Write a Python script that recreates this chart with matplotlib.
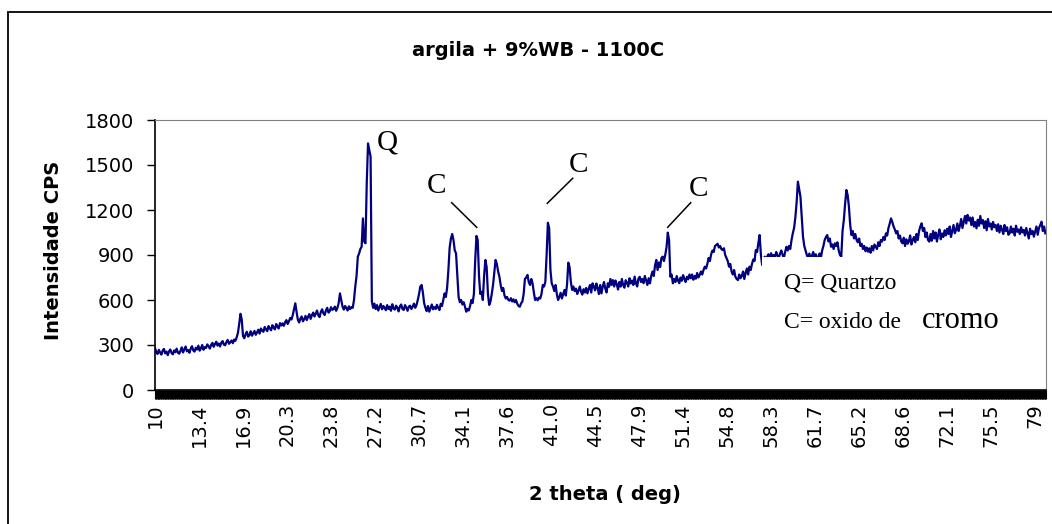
import numpy as np
import matplotlib
matplotlib.use('Agg')
import matplotlib.pyplot as plt
from matplotlib.patches import Rectangle
from matplotlib.lines import Line2D

cps = [
    280, 252, 240, 268, 250, 236, 262, 274, 244, 256, 232, 258, 270, 246, 238, 264, 252, 276, 248, 242,  # 10
    262, 284, 250, 270, 290, 258, 266, 248, 276, 292, 264, 256, 282, 270, 296, 262, 278, 300, 268, 286,  # 12
    280, 304, 292, 276, 300, 314, 288, 306, 322, 296, 310, 290, 316, 326, 302, 298, 320, 334, 308, 318,  # 14
    330, 312, 336, 328, 350, 380, 440, 508, 470, 360, 345, 372, 388, 356, 366, 392, 362, 378, 394, 368,  # 16
    384, 402, 376, 410, 396, 388, 420, 404, 392, 426, 410, 398, 432, 416, 404, 440, 422, 410, 446, 430,  # 18
    444, 428, 452, 466, 440, 458, 480, 470, 500, 540, 578, 520, 468, 450, 476, 490, 458, 472, 494, 466,  # 20
    488, 506, 474, 498, 516, 490, 508, 530, 498, 486, 520, 538, 512, 500, 530, 548, 516, 526, 552, 534,  # 22
    540, 556, 528, 548, 580, 644, 600, 556, 536, 560, 546, 530, 558, 540, 552, 548, 600, 689, 760, 889,  # 24
    910, 940, 955, 1144, 990, 978, 1380, 1644, 1600, 1555, 590, 548, 576, 540, 566, 530, 552, 574, 538, 560,  # 26
    548, 532, 566, 540, 556, 528, 572, 544, 536, 562, 548, 524, 558, 570, 540, 534, 566, 550, 528, 556,  # 28
    562, 540, 556, 576, 548, 566, 600, 640, 690, 700, 650, 578, 548, 526, 560, 522, 545, 570, 538, 552,  # 30
    540, 568, 548, 533, 575, 560, 600, 644, 620, 680, 800, 950, 1010, 1040, 1000, 930, 911, 760, 620, 585,  # 32
    600, 570, 585, 556, 522, 540, 530, 560, 600, 580, 640, 860, 1027, 1000, 760, 640, 655, 600, 760, 867,  # 34
    820, 640, 567, 590, 640, 700, 780, 867, 840, 790, 755, 700, 660, 680, 630, 610, 620, 600, 596, 612,  # 36
    590, 604, 585, 600, 575, 560, 555, 578, 590, 640, 740, 750, 767, 720, 700, 740, 711, 650, 600, 612,  # 38
    598, 616, 610, 640, 700, 690, 720, 900, 1115, 1080, 800, 711, 690, 660, 700, 640, 600, 620, 648, 610,  # 40
    640, 667, 630, 700, 849, 820, 720, 667, 690, 660, 676, 640, 662, 690, 655, 636, 672, 650, 680, 644,  # 42
    676, 700, 650, 711, 690, 664, 710, 680, 640, 700, 644, 690, 720, 676, 650, 712, 688, 740, 700, 733,  # 44
    690, 730, 705, 670, 720, 689, 740, 700, 682, 732, 715, 690, 745, 710, 730, 700, 756, 712, 690, 742,  # 46
    755, 720, 740, 712, 760, 730, 700, 745, 711, 760, 790, 760, 830, 867, 800, 850, 820, 880, 889, 860,  # 48
    900, 950, 1049, 1000, 755, 770, 711, 740, 720, 760, 730, 712, 750, 728, 766, 740, 720, 755, 738, 770,  # 50
    745, 770, 735, 760, 742, 780, 750, 767, 790, 770, 800, 822, 810, 840, 880, 860, 905, 930, 920, 960,  # 52
    967, 975, 950, 960, 940, 933, 945, 900, 880, 860, 822, 840, 790, 770, 800, 755, 740, 733, 770, 745,  # 54
    760, 790, 740, 780, 810, 770, 822, 800, 840, 870, 860, 933, 920, 980, 1033, 900, 833, 860, 889, 870,  # 56
    890, 905, 870, 912, 880, 900, 885, 920, 895, 880, 910, 930, 900, 880, 920, 955, 930, 960, 940, 1000,  # 58
    1044, 1080, 1150, 1250, 1389, 1340, 1289, 1150, 1022, 960, 930, 900, 880, 910, 870, 895, 920, 885, 905, 870,  # 60
    889, 910, 880, 930, 960, 1000, 1020, 1033, 990, 1010, 955, 970, 940, 978, 960, 985, 930, 900, 889, 1060,  # 62
    1133, 1240, 1333, 1300, 1222, 1100, 1033, 1060, 1010, 1040, 1000, 985, 1010, 960, 975, 940, 960, 925, 950, 922,  # 64
    945, 915, 960, 930, 970, 955, 940, 985, 960, 1000, 990, 1020, 1000, 1044, 1030, 1080, 1110, 1144, 1120, 1090,  # 66
    1070, 1044, 1060, 1010, 1030, 990, 978, 1015, 960, 1005, 975, 990, 1030, 970, 1000, 1020, 985, 1040, 1000, 1060,  # 68
    1090, 1111, 1060, 1080, 1020, 1050, 1000, 989, 1040, 995, 1060, 1010, 1050, 990, 1035, 1070, 1005, 1044, 1020, 1065,  # 70
    1030, 1075, 1040, 1090, 1020, 1060, 1100, 1045, 1067, 1110, 1060, 1095, 1140, 1080, 1120, 1160, 1110, 1167, 1130, 1150,  # 72
    1100, 1150, 1090, 1120, 1078, 1135, 1095, 1160, 1110, 1133, 1080, 1125, 1065, 1140, 1090, 1110, 1070, 1120, 1085, 1100,  # 74
    1060, 1105, 1050, 1095, 1070, 1040, 1100, 1060, 1085, 1035, 1044, 1090, 1050, 1075, 1030, 1095, 1055, 1070, 1040, 1085,  # 76
    1050, 1067, 1030, 1080, 1045, 1010, 1075, 1040, 1060, 1022, 1055, 1090, 1035, 1080, 1100, 1122, 1060, 1090, 1044,  # 78
]
two_theta = np.round(10 + 0.1 * np.arange(len(cps)), 1)

tick_pos = [10, 13.45, 16.9, 20.35, 23.8, 27.25, 30.7, 34.15, 37.6, 41.05, 44.5,
            47.95, 51.4, 54.85, 58.3, 61.75, 65.2, 68.65, 72.1, 75.55, 79]
tick_lbl = ['10', '13.4', '16.9', '20.3', '23.8', '27.2', '30.7', '34.1', '37.6', '41.0', '44.5',
            '47.9', '51.4', '54.8', '58.3', '61.7', '65.2', '68.6', '72.1', '75.5', '79']
y_ticks = [0, 300, 600, 900, 1200, 1500, 1800]

W, H = 1052, 524


def fx(px):
    return px / W


def fy(py):
    return 1 - py / H


fig = plt.figure(figsize=(W / 100, H / 100), dpi=100)
ax = fig.add_axes([fx(155), fy(390), 891 / W, 270 / H])

ax.plot(two_theta, cps, color='#000080', linewidth=1.6, zorder=2)

ax.set_xlim(10, 79.85)
ax.set_ylim(0, 1800)
ax.set_yticks(y_ticks)
ax.set_yticklabels([str(v) for v in y_ticks], fontsize=14)
ax.set_xticks(tick_pos)
ax.set_xticklabels(tick_lbl, fontsize=14, rotation=90)
ax.set_xticks(np.arange(10, 79.86, 0.05), minor=True)
ax.tick_params(axis='x', which='both', length=6.5, width=0.8, direction='out', pad=3, color='black')
ax.tick_params(axis='y', length=6, width=1, direction='out', pad=9)

ax.spines['top'].set_color('#808080')
ax.spines['right'].set_color('#808080')
ax.spines['left'].set_linewidth(1.2)
ax.spines['bottom'].set_linewidth(1.2)

# caixa branca da legenda (cobre parte da curva, como no original)
ax.add_patch(Rectangle((57.6, 350), 18.5, 537, facecolor='white', edgecolor='none', zorder=3))

# moldura externa
fig.patches.append(Rectangle((fx(8), -0.2), 1.2, fy(12) + 0.2, transform=fig.transFigure,
                             fill=False, edgecolor='black', linewidth=1.3))

fig.text(fx(538), fy(55.7), 'argila + 9%WB - 1100C', ha='center', va='baseline',
         fontsize=14, fontweight='bold')
fig.text(fx(54), fy(250), 'Intensidade CPS', ha='center', va='center', rotation=90,
         fontsize=14, fontweight='bold')
fig.text(fx(605), fy(500), '2 theta ( deg)', ha='center', va='baseline',
         fontsize=14, fontweight='bold')

serif = 'Liberation Serif'
fig.text(fx(387), fy(149), 'Q', ha='center', va='baseline', fontsize=21, family=serif)
fig.text(fx(436), fy(193), 'C', ha='center', va='baseline', fontsize=21, family=serif)
fig.text(fx(578), fy(172), 'C', ha='center', va='baseline', fontsize=21, family=serif)
fig.text(fx(698), fy(196), 'C', ha='center', va='baseline', fontsize=21, family=serif)
for (x0, y0, x1, y1) in [(451.7, 202.7, 476.7, 227.3), (572.7, 178.3, 547.3, 203.3),
                         (690.7, 202.7, 667.7, 227.3)]:
    fig.add_artist(Line2D([fx(x0), fx(x1)], [fy(y0), fy(y1)], transform=fig.transFigure,
                          color='black', linewidth=1.1))

fig.text(fx(784), fy(288), 'Q= Quartzo', ha='left', va='baseline', fontsize=17, family=serif)
fig.text(fx(784), fy(328), 'C= oxido de ', ha='left', va='baseline', fontsize=17, family=serif)
fig.text(fx(922), fy(328), 'cromo', ha='left', va='baseline', fontsize=22, family=serif)

fig.savefig('out.png', dpi=100)
